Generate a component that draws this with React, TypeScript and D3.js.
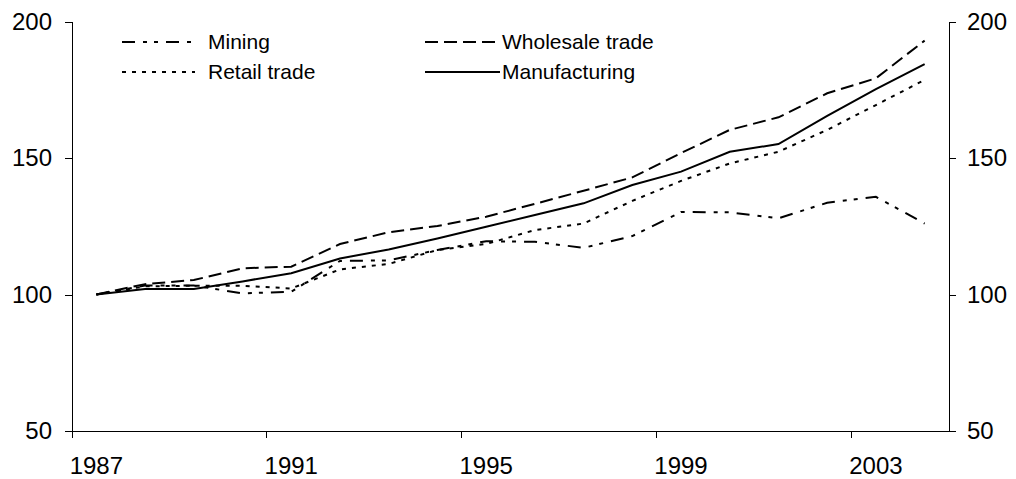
import React, { useEffect, useRef } from "react";
import * as d3 from "d3";

const years = [1987, 1988, 1989, 1990, 1991, 1992, 1993, 1994, 1995, 1996, 1997, 1998, 1999, 2000, 2001, 2002, 2003, 2004];
const mining = [100, 103.3, 103.3, 100.4, 101, 112.3, 112.5, 116.3, 119.5, 119.3, 117.1, 121.4, 130.2, 130.1, 127.9, 133.6, 135.8, 126];
const wholesale = [100, 103.8, 105.3, 109.6, 110.2, 118.5, 122.8, 125.1, 128.5, 133.2, 138, 142.9, 151.8, 160.3, 164.9, 173.7, 179.2, 193];
const retail = [100, 103, 103.2, 103.2, 102.2, 109.2, 111.2, 116.3, 118.5, 123.6, 126, 134.3, 141.6, 148, 152.3, 160.3, 169.4, 178.6];
const manufacturing = [100, 102, 102, 104.8, 107.8, 113.2, 116.5, 120.5, 124.8, 129.1, 133.4, 140.1, 145, 152.3, 155.1, 165.4, 175.2, 184.4];

const yTicks = [50, 100, 150, 200];
const xLabelYears = [1987, 1991, 1995, 1999, 2003];

const series = [
  { name: "Mining", values: mining, dash: "13,8,4,7,4,8" },
  { name: "Wholesale trade", values: wholesale, dash: "13,6" },
  { name: "Retail trade", values: retail, dash: "4,6" },
  { name: "Manufacturing", values: manufacturing, dash: null },
];

const FONT = "Arial, 'Liberation Sans', sans-serif";

export default function App() {
  const ref = useRef<SVGSVGElement>(null);

  useEffect(() => {
    const width = 1016;
    const height = 479;
    const left = 72;
    const right = 949;
    const top = 21.5;
    const bottom = 431;

    const svg = d3.select(ref.current).attr("width", width).attr("height", height);
    svg.selectAll("*").remove();

    const xScale = d3.scaleBand<number>().domain(years).range([left, right]).padding(0);
    const yScale = d3.scaleLinear().domain([50, 200]).range([bottom, top]);
    const cx = (yr: number) => (xScale(yr) as number) + xScale.bandwidth() / 2;

    // y axes, left and right
    const yLeft = svg.append("g").attr("transform", `translate(${left},0)`)
      .call(d3.axisLeft(yScale).tickValues(yTicks).tickSize(7).tickSizeOuter(0).tickPadding(13));
    const yRight = svg.append("g").attr("transform", `translate(${right},0)`)
      .call(d3.axisRight(yScale).tickValues(yTicks).tickSize(7).tickSizeOuter(0).tickPadding(11));
    [yLeft, yRight].forEach(g => {
      g.selectAll("path, line").attr("stroke", "#000").attr("stroke-width", 1).attr("shape-rendering", "crispEdges");
      g.selectAll("text").style("font-family", FONT).style("font-size", "24px").attr("fill", "#000");
    });

    // x axis: ticks at category edges, labels at category centres
    const xAxis = svg.append("g");
    xAxis.append("line")
      .attr("x1", left).attr("x2", right).attr("y1", bottom).attr("y2", bottom)
      .attr("stroke", "#000").attr("shape-rendering", "crispEdges");
    xAxis.selectAll("line.tick").data(xLabelYears).enter()
      .append("line")
      .attr("class", "tick")
      .attr("x1", d => xScale(d) as number).attr("x2", d => xScale(d) as number)
      .attr("y1", bottom).attr("y2", bottom + 7)
      .attr("stroke", "#000").attr("shape-rendering", "crispEdges");
    xAxis.selectAll("text").data(xLabelYears).enter()
      .append("text")
      .attr("x", d => cx(d))
      .attr("y", 474)
      .attr("text-anchor", "middle")
      .style("font-family", FONT)
      .style("font-size", "24px")
      .text(d => d);

    // the lines
    const line = d3.line<number>().x((_, i) => cx(years[i])).y(d => yScale(d));
    series.forEach(s => {
      svg.append("path")
        .attr("d", line(s.values))
        .attr("fill", "none")
        .attr("stroke", "#000")
        .attr("stroke-width", 2)
        .attr("stroke-dasharray", s.dash);
    });

    // legend
    const legendPos = [
      { x: 122, y: 42, len: 73, gap: 13 },
      { x: 425, y: 42, len: 75, gap: 2 },
      { x: 122, y: 72, len: 73, gap: 13 },
      { x: 425, y: 72, len: 75, gap: 2 },
    ];
    series.forEach((s, i) => {
      const p = legendPos[i];
      svg.append("line")
        .attr("x1", p.x).attr("x2", p.x + p.len).attr("y1", p.y).attr("y2", p.y)
        .attr("stroke", "#000").attr("stroke-width", 2)
        .attr("stroke-dasharray", s.dash);
      svg.append("text")
        .attr("x", p.x + p.len + p.gap)
        .attr("y", p.y)
        .attr("dy", "0.35em")
        .style("font-family", FONT)
        .style("font-size", "21px")
        .text(s.name);
    });
  }, []);

  return <svg ref={ref} style={{ position: "absolute", left: 0, top: 0, background: "#fff" }}></svg>;
}
